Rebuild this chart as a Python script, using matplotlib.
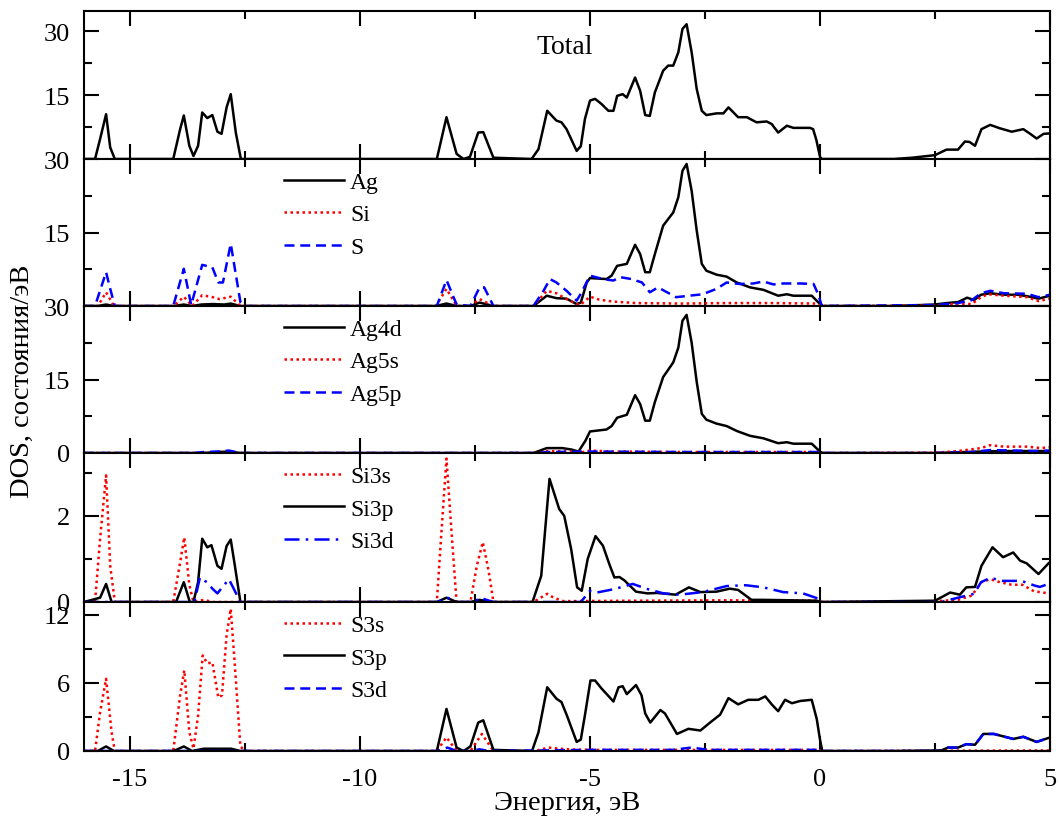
import numpy as np
import matplotlib
matplotlib.use('Agg')
import matplotlib.pyplot as plt
from matplotlib.ticker import MultipleLocator

plt.rcParams['font.family'] = ['Liberation Serif', 'DejaVu Serif']
plt.rcParams['font.size'] = 18
plt.rcParams['axes.unicode_minus'] = False

# ---- panel 1: total DOS ----
e_total = [-16, -15.76, -15.65, -15.52, -15.43, -15.33, -14.06, -13.91, -13.83, -13.71, -13.62, -13.52,
           -13.43, -13.32, -13.21, -13.10, -13.01, -12.90, -12.81, -12.70, -12.59, -8.33, -8.12, -7.90,
           -7.75, -7.61, -7.43, -7.32, -7.10, -6.27, -6.12, -5.93, -5.73, -5.62, -5.51, -5.29, -5.20,
           -5.11, -5.00, -4.89, -4.75, -4.60, -4.49, -4.41, -4.29, -4.20, -4.02, -3.91, -3.80, -3.70,
           -3.59, -3.41, -3.30, -3.19, -3.08, -2.99, -2.90, -2.79, -2.68, -2.57, -2.47, -2.25, -2.10,
           -1.99, -1.78, -1.59, -1.38, -1.16, -1.05, -0.91, -0.72, -0.58, -0.22, -0.15, -0.08, 0.0,
           0.04, 1.6, 2.0, 2.5, 2.75, 3.0, 3.15, 3.25, 3.37, 3.51, 3.70, 3.91, 4.17, 4.42, 4.57, 4.71,
           4.86, 5.0]
dos_total = [0, 0, 4.7, 10.5, 2.7, 0, 0, 7.0, 10.2, 3.1, 0.7, 3.1,
             10.9, 9.6, 10.3, 6.4, 5.9, 12.1, 15.2, 6.2, 0, 0, 9.8, 1.2,
             0, 0.5, 6.2, 6.3, 0.3, 0, 2.3, 11.3, 9.0, 8.6, 7.0, 1.9, 3.0,
             9.4, 13.7, 14.1, 12.9, 11.3, 11.3, 14.8, 15.2, 14.4, 19.1, 16.0, 10.3, 10.1,
             15.6, 20.7, 21.9, 21.9, 25.0, 30.5, 31.6, 25.0, 16.4, 11.3, 10.3, 10.7, 10.7,
             12.1, 9.8, 9.8, 8.6, 8.8, 8.2, 6.2, 7.8, 7.3, 7.3, 7.0, 4.5, 0.5,
             0, 0, 0.3, 0.9, 2.2, 2.2, 4.1, 4.0, 3.1, 7.0, 8.0, 7.2, 6.4, 7.0, 5.9, 4.8,
             5.9, 6.0]

# ---- panel 2: Ag, Si, S ----
e_ag = [-16, -15.7, -15.52, -15.35, -14.05, -13.83, -13.65, -13.45, -13.2, -12.95, -12.81, -12.6,
        -8.35, -8.12, -7.9, -7.6, -7.4, -7.1, -6.23, -5.94, -5.73, -5.51, -5.29, -5.20, -5.07, -5.0,
        -4.64, -4.53, -4.41, -4.20, -4.02, -3.91, -3.80, -3.70, -3.59, -3.41, -3.19, -3.08, -2.99,
        -2.90, -2.79, -2.68, -2.57, -2.47, -2.25, -2.03, -1.81, -1.52, -1.23, -0.91, -0.72, -0.58,
        -0.18, 0.0, 0.05, 1.6, 2.5, 2.75, 3.0, 3.2, 3.35, 3.5, 3.7, 4.0, 4.3, 4.5, 4.75, 5.0]
dos_ag = [0, 0, 0.3, 0, 0, 0.3, 0, 0.3, 0.4, 0.3, 0.5, 0,
          0, 0.5, 0, 0, 0.7, 0, 0, 2.1, 1.6, 1.5, 0.4, 0.7, 4.8, 5.7,
          5.5, 6.2, 8.2, 8.6, 12.5, 10.6, 6.9, 6.9, 10.6, 16.4, 19.1, 22.2, 27.6,
          29.0, 23.5, 15.4, 8.6, 7.2, 6.4, 6.0, 4.8, 3.8, 3.3, 2.1, 2.4, 2.1,
          2.1, 0.4, 0, 0, 0.3, 0.6, 0.8, 1.7, 1.2, 2.3, 2.6, 2.3, 2.3, 2.0, 1.5, 2.1]

e_si = [-16, -15.7, -15.52, -15.35, -14.05, -13.83, -13.65, -13.43, -13.2, -13.05, -12.81, -12.6,
        -8.35, -8.12, -7.9, -7.6, -7.4, -7.1, -6.23, -5.94, -5.73, -5.51, -5.29, -5.2, -5.0, -4.8,
        -4.5, -4.0, -3.0, -2.0, -1.0, -0.1, 0.05, 2.5, 3.0, 3.3, 3.5, 3.65, 4.0, 4.5, 4.75, 5.0]
dos_si = [0, 0, 2.8, 0, 0, 1.9, 0, 2.2, 1.8, 1.4, 1.9, 0,
          0, 3.5, 0, 0, 1.4, 0, 0, 3.1, 2.6, 1.4, 0.4, 0.3, 1.9, 1.3,
          0.9, 0.6, 0.5, 0.6, 0.6, 0.5, 0, 0.1, 0.5, 0.4, 1.8, 2.4, 2.1, 1.8, 1.0, 1.5]

e_s = [-16, -15.76, -15.52, -15.43, -15.33, -14.06, -13.83, -13.67, -13.43, -13.21, -13.08, -12.98,
       -12.81, -12.6, -12.5, -8.33, -8.12, -7.9, -7.6, -7.4, -7.3, -7.1, -6.23, -6.01, -5.87, -5.73,
       -5.51, -5.29, -5.2, -5.0, -4.72, -4.49, -4.35, -4.1, -3.87, -3.70, -3.52, -3.13, -2.84, -2.55,
       -2.25, -2.03, -1.75, -1.45, -1.23, -1.01, -0.80, -0.43, -0.14, -0.04, 0.04, 2.5, 3.0, 3.3,
       3.5, 3.7, 4.0, 4.5, 4.75, 5.0]
dos_s = [0, 0, 6.9, 3.5, 0, 0, 7.6, 0.2, 8.4, 7.9, 4.8, 4.8,
         12.7, 0.8, 0, 0, 5.3, 0.3, 0, 3.8, 3.8, 0, 0, 3.1, 5.5, 4.8,
         3.1, 1.1, 2.5, 6.2, 5.5, 5.2, 5.9, 5.5, 4.8, 2.8, 3.8, 1.8, 2.1, 2.4,
         3.5, 4.8, 4.5, 4.6, 5.0, 4.4, 4.6, 4.6, 4.5, 2.4, 0, 0.2, 0.6, 1.2,
         2.6, 3.1, 2.6, 2.5, 1.8, 2.3]

# ---- panel 3: Ag4d, Ag5s, Ag5p ----
e_ag4d = [-16, -13.4, -13.1, -12.85, -12.6, -6.23, -5.94, -5.6, -5.4, -5.25, -5.1, -5.0, -4.64,
          -4.53, -4.41, -4.20, -4.02, -3.91, -3.80, -3.70, -3.59, -3.41, -3.19, -3.08, -2.99, -2.90,
          -2.79, -2.68, -2.57, -2.47, -2.25, -2.03, -1.81, -1.52, -1.23, -0.91, -0.72, -0.58, -0.18,
          0.0, 0.05, 2.5, 3.5, 4.0, 5.0]
dos_ag4d = [0, 0, 0.2, 0.3, 0, 0, 1.0, 1.0, 0.7, 0.3, 2.5, 4.4, 4.8,
            5.5, 7.2, 7.8, 11.8, 10.0, 6.6, 6.6, 10.4, 15.5, 18.5, 21.5, 27.0, 28.2,
            22.5, 14.5, 8.0, 6.8, 6.0, 5.5, 4.5, 3.5, 3.0, 2.0, 2.2, 1.9, 1.9,
            0.3, 0, 0, 0.3, 0.4, 0.4]

e_ag5s = [-16, -6.2, -5.9, -5.5, -5.2, -5.0, -4.5, -3.0, -1.0, -0.05, 0.05, 2.5, 3.0, 3.5, 3.7,
          4.0, 4.5, 4.8, 5.0]
dos_ag5s = [0, 0, 0.4, 0.3, 0.1, 0.5, 0.3, 0.2, 0.2, 0.2, 0, 0.05, 0.4, 1.0, 1.6,
            1.3, 1.3, 1.0, 1.2]

e_ag5p = [-16, -13.6, -13.4, -13.1, -12.85, -12.6, -6.2, -5.9, -5.0, -3.0, -0.05, 0.05, 2.5, 3.3,
          3.7, 4.2, 4.7, 5.0]
dos_ag5p = [0, 0, 0.2, 0.3, 0.5, 0, 0, 0.2, 0.3, 0.2, 0.2, 0, 0, 0.2,
            0.6, 0.5, 0.4, 0.5]

# ---- panel 4: Si3s, Si3p, Si3d ----
e_si3s = [-16, -15.76, -15.65, -15.52, -15.43, -15.33, -14.06, -13.91, -13.82, -13.71, -13.62,
          -13.4, -13.2, -8.33, -8.23, -8.12, -8.01, -7.9, -7.6, -7.46, -7.33, -7.2, -7.1, -6.23,
          -5.93, -5.79, -5.58, -4.0, -2.0, -0.05, 0.05, 2.5, 3.0, 3.3, 3.51, 3.70, 3.91, 4.17, 4.4,
          4.65, 4.97]
dos_si3s = [0, 0, 1.47, 2.94, 0.84, 0, 0, 0.92, 1.50, 0.4, 0,
            0.05, 0, 0, 1.62, 3.33, 1.62, 0, 0, 0.84, 1.39, 0.7, 0, 0,
            0.19, 0.1, 0.02, 0.03, 0.04, 0.03, 0, 0.02, 0.05, 0.15, 0.46, 0.53, 0.46, 0.4, 0.4,
            0.25, 0.2]

e_si3p = [-16, -15.65, -15.52, -15.4, -14.0, -13.83, -13.7, -13.62, -13.52, -13.43, -13.32,
          -13.23, -13.1, -13.01, -12.9, -12.81, -12.72, -12.6, -8.33, -8.12, -7.9, -7.6, -7.4, -7.1,
          -6.25, -6.06, -5.88, -5.67, -5.56, -5.41, -5.28, -5.18, -5.05, -4.88, -4.72, -4.58, -4.47,
          -4.36, -4.25, -4.0, -3.75, -3.54, -3.14, -2.85, -2.6, -2.25, -1.96, -1.78, -1.49, -1.23,
          -0.07, 0.03, 2.5, 2.83, 3.04, 3.18, 3.37, 3.51, 3.75, 3.98, 4.2, 4.35, 4.49, 4.75, 4.97]
dos_si3p = [0, 0.1, 0.42, 0, 0, 0.46, 0, 0, 0.46, 1.47, 1.27,
            1.32, 0.84, 0.77, 1.3, 1.45, 0.84, 0, 0, 0.1, 0, 0, 0.05, 0,
            0, 0.61, 2.86, 2.16, 2.0, 1.23, 0.34, 0.26, 1.0, 1.53, 1.31, 0.88, 0.57,
            0.58, 0.5, 0.24, 0.2, 0.21, 0.17, 0.34, 0.23, 0.24, 0.31, 0.28, 0.05, 0.05,
            0.03, 0, 0.03, 0.22, 0.17, 0.34, 0.35, 0.84, 1.27, 1.04, 1.15, 0.96, 0.9, 0.65, 0.9]

e_si3d = [-16, -13.6, -13.48, -13.33, -13.2, -13.1, -12.85, -12.6, -8.3, -8.1, -7.9,
          -7.5, -7.4, -7.1, -5.2, -5.0, -4.85, -4.47, -4.07, -3.75, -3.4, -3.05, -2.55, -2.03, -1.62,
          -1.23, -0.8, -0.37, -0.04, 0.03, 2.64, 3.0, 3.35, 3.5, 3.7, 3.98, 4.38, 4.67, 4.78, 4.97]
dos_si3d = [0, 0, 0.57, 0.46, 0.3, 0.2, 0.53, 0, 0, 0.1, 0,
            0, 0.1, 0, 0, 0.26, 0.22, 0.3, 0.42, 0.3, 0.2, 0.17, 0.23, 0.37, 0.39,
            0.34, 0.23, 0.2, 0.08, 0, 0, 0.1, 0.19, 0.46, 0.56, 0.49, 0.49, 0.38, 0.35, 0.42]

# ---- panel 5: S3s, S3p, S3d ----
e_s3s = [-16, -15.76, -15.65, -15.52, -15.4, -15.33, -14.06, -13.91, -13.82, -13.71, -13.62,
         -13.52, -13.42, -13.32, -13.21, -13.08, -13.0, -12.9, -12.81, -12.72, -12.6, -12.5, -8.33,
         -8.12, -7.9, -7.6, -7.35, -7.1, -6.2, -5.9, -5.5, -5.0, -3.0, -1.0, -0.05, 0.05, 5.0]
dos_s3s = [0, 0, 3.4, 6.35, 1.65, 0, 0, 4.9, 7.1, 1.65, 0.2,
           3.1, 8.4, 7.7, 7.8, 4.7, 4.9, 10.2, 12.5, 7.5, 0.4, 0, 0,
           1.2, 0, 0, 1.5, 0, 0, 0.3, 0.15, 0.1, 0.1, 0.1, 0.1, 0, 0.05]

e_s3p = [-16, -15.7, -15.52, -15.35, -14.05, -13.83, -13.65, -13.4, -12.8, -12.6, -8.33, -8.12,
         -7.9, -7.75, -7.6, -7.43, -7.32, -7.1, -6.26, -6.12, -5.93, -5.73, -5.62, -5.5, -5.29,
         -5.2, -5.1, -4.99, -4.89, -4.75, -4.49, -4.38, -4.29, -4.2, -4.0, -3.88, -3.8, -3.69,
         -3.47, -3.37, -3.11, -2.86, -2.6, -2.39, -2.17, -1.99, -1.78, -1.56, -1.34, -1.19, -1.05,
         -0.91, -0.76, -0.61, -0.43, -0.18, -0.07, 0.0, 0.05, 1.6, 2.64, 2.78, 3.0, 3.18, 3.37,
         3.55, 3.78, 4.2, 4.42, 4.71, 4.97]
dos_s3p = [0, 0, 0.4, 0, 0, 0.4, 0, 0.2, 0.2, 0, 0, 3.7,
           0.3, 0, 0.4, 2.5, 2.7, 0.1, 0, 1.65, 5.6, 4.6, 4.3, 3.1, 0.8,
           1.0, 3.4, 6.2, 6.2, 5.5, 4.35, 5.6, 5.7, 5.0, 5.8, 4.9, 3.3, 2.5,
           3.6, 3.3, 1.5, 1.95, 1.8, 2.5, 3.2, 4.65, 4.1, 4.5, 4.5, 4.8, 4.1,
           3.5, 4.5, 4.2, 4.4, 4.5, 2.8, 1.0, 0, 0, 0.05, 0.3, 0.3, 0.6, 0.55,
           1.5, 1.5, 1.06, 1.25, 0.8, 1.15]

e_s3d = [-16, -8.3, -8.1, -7.9, -7.6, -7.4, -7.2, -6.0, -5.0, -3.2, -2.8, -2.4, -1.0, -0.05, 0.05,
         2.64, 2.78, 3.0, 3.18, 3.37, 3.55, 3.78, 4.2, 4.42, 4.71, 4.97]
dos_s3d = [0, 0, 0.3, 0, 0, 0.15, 0, 0.05, 0.1, 0.1, 0.3, 0.1, 0.1, 0.1, 0,
           0, 0.3, 0.3, 0.6, 0.55, 1.5, 1.5, 1.06, 1.25, 0.8, 1.15]

DOT = (0, (1, 1.4))
DASH = (0, (4, 2.3))
DASHDOT = (0, (6, 2.5, 1, 2.5))
LW = 1.8

fig = plt.figure(figsize=(10.59, 8.2), dpi=100)

# panel boxes in pixels (top, bottom)
boxes = [(12, 160), (160, 307), (307, 454), (454, 603), (603, 752)]
W, H = 1059.0, 820.0
left, right = 84, 1050
axes = []
for top, bot in boxes:
    ax = fig.add_axes([left / W, 1 - bot / H, (right - left) / W, (bot - top) / H])
    axes.append(ax)


def style(ax, ymax, major, minor, labels):
    ax.set_xlim(-16, 5)
    ax.set_ylim(0, ymax)
    ax.xaxis.set_major_locator(MultipleLocator(5))
    ax.xaxis.set_minor_locator(MultipleLocator(2.5))
    ticks = list(np.arange(0, ymax, major))
    ax.set_yticks(ticks)
    ax.set_yticklabels(labels)
    ax.yaxis.set_minor_locator(MultipleLocator(minor))
    ax.tick_params(which='both', direction='in', top=True, right=True, width=1.5)
    ax.tick_params(which='major', length=11)
    ax.tick_params(which='minor', length=6)
    ax.tick_params(axis='y', pad=10, labelsize=19)
    ax.tick_params(axis='x', pad=12, labelsize=19)
    for sp in ax.spines.values():
        sp.set_linewidth(1.5)


def legend(ax):
    ax.legend(loc='upper left', bbox_to_anchor=(0.207, 0.915), frameon=False, fontsize=17,
              handlelength=2.55, handletextpad=0.25, labelspacing=0.46, borderpad=0,
              borderaxespad=0)


ax1, ax2, ax3, ax4, ax5 = axes

ax1.plot(e_total, dos_total, color='black', lw=LW)
ax1.text(0.498, 0.76, 'Total', transform=ax1.transAxes, ha='center', va='center', fontsize=20)
style(ax1, 34.7, 15, 7.5, ['', '15', '30'])

ax2.plot(e_ag, dos_ag, color='black', lw=LW, label='Ag')
ax2.plot(e_si, dos_si, color='red', lw=LW, ls=DOT, label='Si')
ax2.plot(e_s, dos_s, color='blue', lw=LW, ls=DASH, label='S')
style(ax2, 30.01, 15, 7.5, ['', '15', '30'])
legend(ax2)

ax3.plot(e_ag4d, dos_ag4d, color='black', lw=LW, label='Ag4d')
ax3.plot(e_ag5s, dos_ag5s, color='red', lw=LW, ls=DOT, label='Ag5s')
ax3.plot(e_ag5p, dos_ag5p, color='blue', lw=LW, ls=DASH, label='Ag5p')
style(ax3, 30.01, 15, 7.5, ['0', '15', '30'])
legend(ax3)

ax4.plot(e_si3s, dos_si3s, color='red', lw=LW, ls=DOT, label='Si3s')
ax4.plot(e_si3p, dos_si3p, color='black', lw=LW, label='Si3p')
ax4.plot(e_si3d, dos_si3d, color='blue', lw=LW, ls=DASHDOT, label='Si3d')
style(ax4, 3.46, 2, 1, ['0', '2'])
legend(ax4)

ax5.plot(e_s3s, dos_s3s, color='red', lw=LW, ls=DOT, label='S3s')
ax5.plot(e_s3p, dos_s3p, color='black', lw=LW, label='S3p')
ax5.plot(e_s3d, dos_s3d, color='blue', lw=LW, ls=DASH, label='S3d')
style(ax5, 13.1, 6, 3, ['0', '6', '12'])
legend(ax5)

for ax in axes[:-1]:
    ax.tick_params(axis='x', labelbottom=False)

ax5.set_xlabel('Энергия, эВ', fontsize=20.5, labelpad=0)
fig.text(0.021, 0.535, 'DOS, состояния/эВ', rotation=90, ha='center', va='center', fontsize=20.5)

fig.savefig('out.png', dpi=100)
